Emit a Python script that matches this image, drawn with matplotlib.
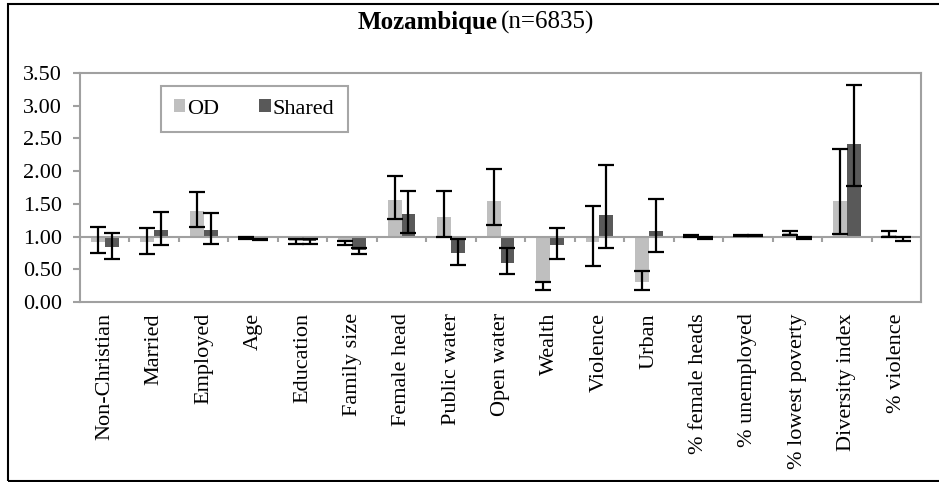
import numpy as np
import matplotlib
matplotlib.use("Agg")
import matplotlib.pyplot as plt
from matplotlib.patches import Rectangle

plt.rcParams['font.family'] = ['Liberation Serif', 'DejaVu Serif']

categories = ['Non-Christian', 'Married', 'Employed', 'Age', 'Education', 'Family size',
              'Female head', 'Public water', 'Open water', 'Wealth', 'Violence', 'Urban',
              '% female heads', '% unemployed', '% lowest poverty', 'Diversity index', '% violence']
# odds ratios and 95% CI
od     = [0.92, 0.92, 1.39, 0.98, 0.93, 0.92, 1.56, 1.30, 1.54, 0.29, 0.91, 0.30, 1.01, 1.02, 1.05, 1.55, 1.03]
od_lo  = [0.75, 0.73, 1.14, 0.97, 0.88, 0.87, 1.27, 1.00, 1.17, 0.19, 0.55, 0.19, 1.00, 1.01, 1.03, 1.04, 1.00]
od_hi  = [1.14, 1.13, 1.68, 0.99, 0.96, 0.93, 1.92, 1.69, 2.04, 0.30, 1.46, 0.47, 1.02, 1.03, 1.08, 2.34, 1.09]
sh     = [0.84, 1.10, 1.10, 0.96, 0.93, 0.80, 1.35, 0.75, 0.60, 0.87, 1.33, 1.09, 0.98, 1.02, 0.98, 2.42, 0.98]
sh_lo  = [0.66, 0.87, 0.88, 0.95, 0.89, 0.73, 1.06, 0.57, 0.43, 0.66, 0.83, 0.77, 0.97, 1.01, 0.97, 1.78, 0.93]
sh_hi  = [1.06, 1.38, 1.36, 0.97, 0.96, 0.82, 1.69, 0.96, 0.82, 1.13, 2.10, 1.57, 0.99, 1.03, 0.99, 3.32, 1.00]

fig = plt.figure(figsize=(9.39, 4.82), dpi=100)
ax = fig.add_axes([80/939, 1-302/482, (921-80)/939, (302-73)/482])

n = len(categories)
x = np.arange(n)
w = 0.28
base = 1.0
grey_od = '#BFBFBF'
grey_sh = '#595959'

od = np.array(od); sh = np.array(sh)
ax.bar(x - w/2, od - base, w, bottom=base, color=grey_od, label='OD')
ax.bar(x + w/2, sh - base, w, bottom=base, color=grey_sh, label='Shared')
ax.errorbar(x - w/2, od, yerr=[od - np.array(od_lo), np.array(od_hi) - od],
            fmt='none', ecolor='black', elinewidth=1.6, capsize=6, capthick=1.6)
ax.errorbar(x + w/2, sh, yerr=[sh - np.array(sh_lo), np.array(sh_hi) - sh],
            fmt='none', ecolor='black', elinewidth=1.6, capsize=6, capthick=1.6)

ax.axhline(base, color='#A0A0A0', lw=1.5, zorder=1)
ax.vlines(np.arange(n + 1) - 0.5, base - 0.09, base, color='#A0A0A0', lw=1.5, zorder=1)

ax.set_xlim(-0.5, n - 0.5)
ax.set_ylim(0, 3.5)
yt = np.arange(0, 3.51, 0.5)
ax.set_yticks(yt)
ax.set_yticklabels(['%.2f' % v for v in yt], fontsize=16)
ax.set_xticks(x)
ax.set_xticklabels(categories, rotation=90, fontsize=16, va='top', ha='center')
ax.tick_params(axis='x', length=0, pad=8)
ax.tick_params(axis='y', length=5, color='#A0A0A0', width=1.5, pad=8)
for s in ax.spines.values():
    s.set_color('#A0A0A0')
    s.set_linewidth(1.5)

leg = ax.legend(loc='upper left', bbox_to_anchor=(0.096, 0.943), borderaxespad=0, ncol=2,
                fontsize=16, frameon=True, fancybox=False, edgecolor='#909090',
                handlelength=0.5, handleheight=0.5, handletextpad=0.1, columnspacing=1.8,
                borderpad=0.6)
leg.get_frame().set_linewidth(1.5)

# title: bold country name followed by regular sample size, centred
ty = 1 - 22/482
t1 = fig.text(0, ty, 'Mozambique', ha='left', va='center', fontsize=18, fontweight='bold')
t2 = fig.text(0, ty, '(n=6835)', ha='left', va='center', fontsize=18)
fig.canvas.draw()
w1 = t1.get_window_extent().width
w2 = t2.get_window_extent().width
x0 = 476 - (w1 + 4 + w2) / 2
t1.set_x(x0 / 939)
t2.set_x((x0 + w1 + 4) / 939)

fig.patches.append(Rectangle((8/939, 1/482), 1.0, 477/482, transform=fig.transFigure,
                             fill=False, edgecolor='black', lw=1.5))

fig.savefig('out.png', dpi=100)
